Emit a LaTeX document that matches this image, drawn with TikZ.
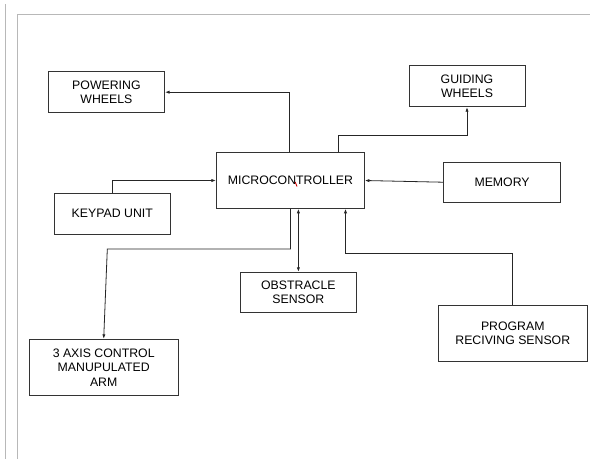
\documentclass[tikz,border=0pt]{standalone}
\usepackage{fontspec}
\setmainfont{Liberation Sans}
\usetikzlibrary{arrows.meta,calc}
\tikzset{
  blk/.style={draw=black!80, line width=0.9pt, fill=white, align=center, inner sep=0pt,
    font=\fontsize{12.3pt}{14.5pt}\selectfont, text=black},
  arr/.style={draw=black!85, line width=0.8pt, -{Latex[length=4.5pt,width=3.2pt]}},
  arrb/.style={draw=black!85, line width=0.8pt, {Latex[length=4.5pt,width=3.2pt]}-{Latex[length=4.5pt,width=3.2pt]}},
  frame/.style={draw=black!28, line width=1.6pt}
}
\begin{document}
\begin{tikzpicture}[x=1pt,y=-1pt]
\useasboundingbox (0,0) rectangle (590,459);
\fill[white] (0,0) rectangle (590,459);
% frame
\draw[frame] (5.3,4) -- (5.3,459);
\draw[frame] (17.5,459) -- (17.5,14.3) -- (590,14.3);
% blocks
\node[blk, minimum width=116.3pt, minimum height=41pt] (pw) at (106.4,92.2) {POWERING\\WHEELS};
\node[blk, minimum width=116pt, minimum height=41pt] (gw) at (467,86.2) {GUIDING\\WHEELS};
\node[blk, minimum width=148pt, minimum height=55.6pt] (mc) at (290.4,180.5) {MICROCONTROLLER};
\node[blk, minimum width=115.4pt, minimum height=40.7pt] (kp) at (112.3,213.7) {KEYPAD UNIT};
\node[blk, minimum width=117.4pt, minimum height=40.3pt] (mem) at (502.1,182.2) {MEMORY};
\node[blk, minimum width=116.8pt, minimum height=40.4pt] (obs) at (298.4,292.5) {OBSTRACLE\\SENSOR};
\node[blk, minimum width=148.5pt, minimum height=55.6pt] (prog) at (512.8,333.5) {PROGRAM\\RECIVING SENSOR};
\node[blk, minimum width=148.6pt, minimum height=56pt] (arm) at (103.7,367.3) {3 AXIS CONTROL\\MANUPULATED\\ARM};
% red mark
\draw[red!80!black, line width=0.9pt] (295.2,182) -- (297,186.5);
% connectors
\draw[arr] ([xshift=-1.4pt]mc.north) |- (pw.east);
\coordinate (gwturn) at (338.7,135.7);
\draw[arr] (gwturn |- mc.north) -- (gwturn) -| (gw.south);
\draw[arr] (kp.north) |- (mc.west);
\draw[arr] (mem.west) -- (mc.east);
\coordinate (armturn) at (107.3,249);
\draw[arr] (mc.south) |- (armturn) -- (arm.north);
\draw[arrb] (obs.north |- mc.south) -- (obs.north);
\coordinate (progturn) at (345.5,253.3);
\draw[arr] (prog.north) |- (progturn) -- (progturn |- mc.south);
\end{tikzpicture}
\end{document}
